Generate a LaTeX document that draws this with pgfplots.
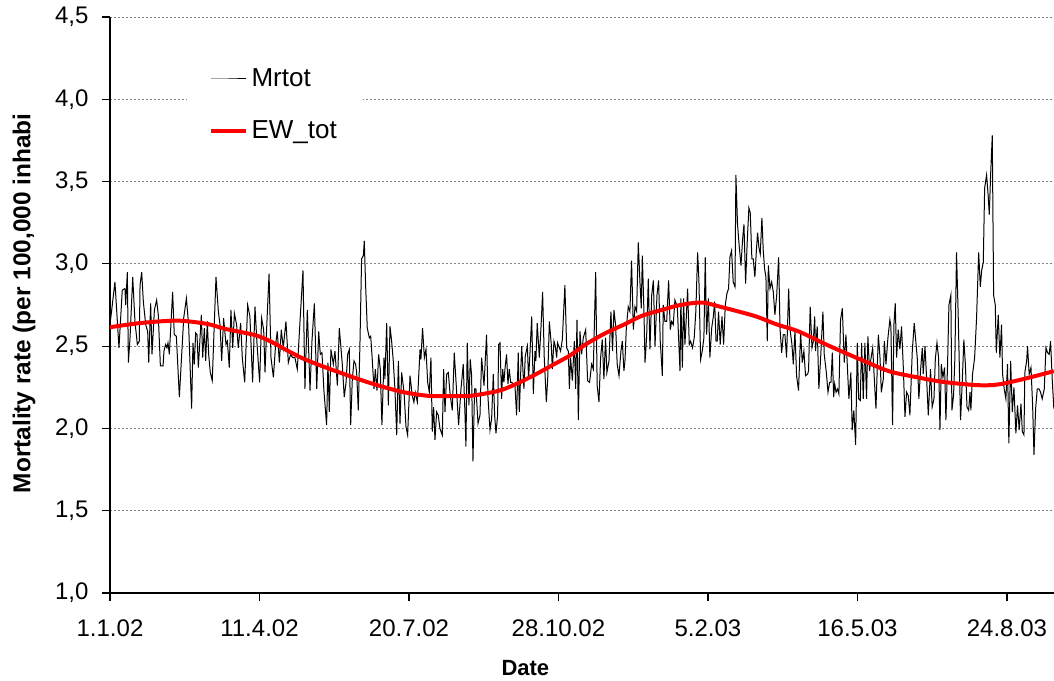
\documentclass[border=0pt]{standalone}
\usepackage{fontspec}
\setmainfont{Liberation Sans}
\usepackage{pgfplots}
\pgfplotsset{compat=1.18}
\begin{document}
\begin{tikzpicture}
\begin{axis}[
 scale only axis, width=472pt, height=288pt,
 xmin=0, xmax=631.5, ymin=1, ymax=4.5,
 axis x line*=bottom, axis y line*=left,
 axis line style={-, black, line width=0.6pt},
 every outer x axis line/.append style={-},
 every outer y axis line/.append style={-},
 xtick={0,100,200,300,400,500,600},
 xticklabels={1.1.02,11.4.02,20.7.02,28.10.02,5.2.03,16.5.03,24.8.03},
 ytick={1,1.5,2,2.5,3,3.5,4,4.5},
 tick align=outside, major tick length=3.75pt,
 tick style={black, line width=0.6pt},
 ymajorgrids,
 major grid style={gray, dash pattern=on 1pt off 1pt, line width=0.5pt},
 ticklabel style={font=\fontsize{12}{14}\selectfont},
 xticklabel style={yshift=-6pt},
 yticklabel style={xshift=-3.5pt},
 /pgf/number format/fixed,
 /pgf/number format/fixed zerofill,
 /pgf/number format/precision=1,
 /pgf/number format/use comma,
 /pgf/number format/assume math mode=true,
 xlabel={Date},
 ylabel={Mortality rate (per 100,000 inhabi},
 xlabel style={at={(axis description cs:0.44,-0.1302)}, anchor=center, font=\bfseries\fontsize{11}{13}\selectfont},
 ylabel style={at={(axis description cs:-0.0911,0.503)}, anchor=center, font=\bfseries\fontsize{12.2}{14}\selectfont},
 legend style={at={(0.0816,0.939)}, anchor=north west, draw=none, fill=white,
   font=\fontsize{13}{15}\selectfont, row sep=11.5pt, inner xsep=11pt, inner ysep=6pt},
 legend cell align=left,
]
\addplot[black, line width=0.5pt] coordinates {
(0,2.63) (3.3,2.89) (6.0,2.49) (8.2,2.84) (10.0,2.85) (10.5,2.75) (11.6,2.95) (12.3,2.40) (13.4,2.55) (15.2,2.92)
(16.7,2.65) (18.3,2.51) (19.6,2.53) (20.1,2.87) (21.2,2.95) (22.3,2.77) (23.9,2.63) (25.2,2.59) (25.9,2.40) (27.2,2.76)
(28.1,2.45) (29.7,2.72) (31.2,2.78) (32.3,2.69) (33.7,2.38) (35.5,2.38) (36.1,2.47) (37.2,2.51) (38.1,2.49) (38.8,2.52)
(39.7,2.45) (41.9,2.83) (43.0,2.57) (44.4,2.56) (46.4,2.19) (49.3,2.67) (51.1,2.79) (52.6,2.63) (54.6,2.12) (55.5,2.52)
(56.4,2.39) (57.3,2.58) (58.2,2.57) (59.1,2.37) (61.1,2.69) (62.0,2.43) (63.1,2.61) (64.0,2.41) (65.1,2.65) (66.0,2.45)
(67.1,2.34) (68.4,2.29) (70.9,2.92) (72.5,2.71) (73.6,2.63) (74.7,2.41) (76.0,2.67)
(77.6,2.51) (78.5,2.53) (79.8,2.37) (80.9,2.72) (82.1,2.49) (83.2,2.70) (84.7,2.63) (85.8,2.49) (87.4,2.64) (88.5,2.43)
(90.1,2.28) (92.1,2.75) (93.6,2.68) (95.4,2.28) (97.0,2.74) (98.3,2.52) (100.1,2.28) (101.4,2.67) (102.8,2.60) (103.7,2.34)
(104.8,2.61) (106.4,2.94) (107.7,2.43) (109.3,2.31) (110.8,2.51) (111.9,2.59) (113.3,2.40) (114.6,2.60) (115.9,2.49) (117.7,2.65)
(119.3,2.40) (120.8,2.45) (122.2,2.43) (123.7,2.43) (125.3,2.36) (127.1,2.65) (129.1,2.96) (130.4,2.24) (132.0,2.72) (133.8,2.23)
(135.1,2.53) (136.7,2.76) (138.3,2.24) (139.6,2.59) (140.7,2.45) (141.8,2.46) (143.1,2.23) (144.9,2.02) (145.8,2.40) (146.7,2.10)
(147.8,2.48) (149.4,2.39) (150.5,2.47) (152.1,2.26) (153.4,2.61)
(155.4,2.39) (156.7,2.19) (157.9,2.28) (159.0,2.45) (160.1,2.48) (161.0,2.02) (162.1,2.30) (163.2,2.41) (164.3,2.39) (165.0,2.34)
(166.1,2.11) (167.2,2.51) (168.3,3.03) (169.5,3.05) (170.1,3.14) (171.0,2.87) (172.1,2.61) (173.5,2.55) (174.4,2.56) (175.5,2.41)
(176.6,2.24) (177.5,2.36) (178.6,2.23) (179.7,2.45) (180.8,2.36) (181.9,2.02) (183.3,2.43) (183.9,2.30) (185.1,2.64) (186.2,2.14)
(187.3,2.62) (188.4,2.53) (189.5,2.41) (190.6,2.24) (191.8,1.96) (192.9,2.41) (194.0,2.03) (195.1,2.34) (196.7,2.22) (198.0,2.01)
(199.1,1.96) (200.7,2.32) (202.2,2.20) (203.3,2.16) (204.2,2.22) (205.6,2.16) (206.2,2.26) (207.4,2.48) (208.0,2.42) (209.1,2.61)
(210.3,2.43) (211.4,2.48) (212.5,2.28) (213.6,2.22) (214.7,2.43) (215.6,1.98) (216.5,2.13) (217.4,1.93) (218.5,2.10) (219.6,2.08)
(220.7,2.00) (222.3,1.96) (223.2,2.36) (224.1,2.10) (225.2,2.33) (226.3,2.34) (227.6,2.20) (229.0,2.11) (230.3,2.46)
(231.9,2.22) (233.2,2.02) (234.8,2.24) (236.3,2.39) (237.5,2.08) (238.1,1.89) (239.0,2.52) (240.1,2.14) (241.0,2.42) (241.9,2.32)
(242.8,1.80) (243.9,2.24) (244.8,2.24) (246.2,2.03) (247.5,2.08) (248.6,2.43) (250.2,2.26) (251.9,2.57) (252.8,2.20) (254.2,1.99)
(255.3,2.06) (256.4,2.33) (257.3,2.08) (258.2,1.97) (259.3,2.08) (260.0,2.51) (260.9,2.52) (262.0,2.18) (262.7,2.36) (263.5,2.28)
(264.2,2.36) (265.3,2.45) (266.2,2.27) (267.1,2.36) (268.0,2.28) (268.9,2.28) (269.8,2.26) (270.9,2.26) (272.0,2.08) (273.1,2.46)
(273.8,2.10) (275.4,2.50) (276.9,2.24) (277.8,2.44) (279.2,2.50) (280.0,2.30) (280.9,2.45) (282.1,2.68) (283.2,2.21) (284.3,2.47)
(284.9,2.41) (285.8,2.64) (287.2,2.43) (288.3,2.61) (289.4,2.83) (290.5,2.43) (291.9,2.16) (292.8,2.30) (293.9,2.65) (295.2,2.51)
(295.9,2.36) (297.0,2.53) (297.9,2.50) (298.8,2.43) (299.4,2.52) (300.6,2.49) (301.4,2.47) (302.6,2.54) (304.3,2.87) (305.5,2.49)
(306.6,2.47) (307.3,2.24)
(308.1,2.43) (309.3,2.29) (310.6,2.53) (311.5,2.24) (312.4,2.66) (313.3,2.05) (314.4,2.59) (315.5,2.45) (316.6,2.55) (318.2,2.60)
(319.5,2.29) (320.8,2.28) (322.2,2.39) (323.3,2.36) (324.9,2.95) (325.9,2.26) (327.1,2.16) (328.2,2.43) (329.3,2.54) (330.4,2.30)
(331.5,2.55) (332.4,2.34) (333.8,2.41) (335.1,2.71) (336.2,2.47) (337.1,2.72) (338.2,2.63) (339.3,2.39) (340.5,2.32) (341.8,2.47)
(342.7,2.53) (343.8,2.35) (344.5,2.41) (345.4,2.61) (346.7,2.74) (347.8,2.71) (348.9,3.02) (350.1,2.60) (351.2,2.74) (352.3,2.71)
(353.4,3.13) (354.5,2.89) (355.4,2.73) (356.1,3.05) (357.2,2.71) (357.9,2.40) (359.0,2.56) (360.1,2.91) (361.2,2.48) (362.4,2.81)
(363.5,2.90) (364.6,2.50) (365.9,2.81) (367.0,2.90) (368.1,2.53) (369.5,2.32) (370.1,2.75) (371.2,2.65) (372.4,2.65) (373.7,2.90)
(374.8,2.60) (375.7,2.65) (376.8,2.63) (377.9,2.78) (379.5,2.74) (381.3,2.35) (381.9,2.79) (382.9,2.37) (383.7,2.79)
(384.6,2.51) (385.3,2.63) (386.4,2.85) (387.5,2.51) (388.4,2.53) (389.7,2.49) (390.8,2.55) (391.9,2.71) (393.1,3.07) (394.0,2.89)
(395.1,2.42) (396.2,2.47) (397.3,2.55) (398.2,3.04) (399.1,2.57) (400.3,2.79) (401.3,2.43) (402.5,2.61) (403.6,2.68) (404.5,2.77)
(405.4,2.53) (406.2,2.53) (407.1,2.71) (408.2,2.51) (409.4,2.68) (410.5,2.51) (411.6,2.75) (412.7,2.82) (413.8,2.85) (414.7,3.04)
(415.8,3.08) (416.9,2.89) (418.1,2.86) (418.7,3.54) (419.8,3.24) (420.9,3.11) (422.1,2.99) (423.2,3.15) (424.1,3.24) (425.2,2.88)
(426.3,3.14) (427.4,3.34) (428.3,3.31) (429.4,3.03) (430.3,3.03) (431.4,2.92) (432.4,3.08) (433.2,3.19) (434.1,3.10) (435.0,3.06)
(436.1,3.28) (437.0,3.08) (437.9,2.97) (438.8,2.92) (439.7,2.53) (440.4,2.99) (441.5,2.85) (442.6,2.89) (443.7,2.83) (444.8,2.69)
(446.0,2.81) (447.3,3.04) (448.2,2.61) (449.3,2.46) (450.4,2.57) (451.5,2.57) (452.6,2.43) (454.0,2.85) (454.8,2.61) (456.2,2.51)
(457.1,2.39) (458.2,2.59) (459.3,2.32) (460.6,2.23)
(462.0,2.58) (463.1,2.40) (464.2,2.47) (465.3,2.32) (466.7,2.33) (467.3,2.35) (468.4,2.74) (469.6,2.49) (470.5,2.53) (471.4,2.68)
(472.0,2.47) (473.1,2.62) (474.2,2.24) (475.4,2.43) (476.9,2.71) (477.8,2.45) (479.2,2.34) (480.3,2.22) (481.4,2.28) (482.3,2.28)
(483.2,2.46) (484.1,2.19) (484.8,2.27) (485.7,2.22) (486.7,2.24) (487.6,2.21) (488.7,2.66) (489.9,2.73) (491.2,2.40) (492.3,2.57)
(493.4,2.35) (494.3,2.18) (495.6,2.34) (496.5,1.99) (497.6,2.11) (498.8,1.90) (499.9,2.52) (500.8,2.18) (501.9,2.17) (502.8,2.52)
(503.9,2.18) (505.0,2.52) (506.1,2.18) (507.0,2.56) (508.1,2.35) (509.0,2.42) (510.2,2.49) (511.3,2.30) (512.4,2.12) (514.0,2.57)
(515.1,2.43) (516.0,2.22) (517.3,2.30) (518.0,2.53) (519.1,2.39) (520.4,2.55) (521.7,2.66) (522.4,2.62) (523.5,2.02) (524.4,2.63)
(525.3,2.76) (526.2,2.43) (527.3,2.60) (528.4,2.48) (529.5,2.62) (530.7,2.37) (531.8,2.07) (532.9,2.22) (534.0,2.20) (535.1,2.08)
(536.7,2.47) (538.0,2.64)
(540.0,2.43) (541.1,2.18) (542.2,2.35) (543.4,2.49) (544.0,2.33) (545.2,2.50) (546.3,2.30) (547.4,2.08) (548.9,2.36) (550.0,2.13)
(551.2,2.18) (552.1,2.42) (553.2,2.52) (554.3,2.43) (555.2,1.99) (556.1,2.39) (557.2,2.31) (558.3,2.37) (559.2,2.05) (560.3,2.39)
(561.2,2.75) (562.5,2.81) (563.2,2.11) (564.3,2.20) (565.2,2.43) (566.3,3.07) (567.4,2.69) (569.0,2.05) (570.1,2.28) (571.2,2.54)
(572.2,2.39) (573.3,2.13) (574.4,2.11) (575.3,2.22) (575.9,2.11) (577.0,2.33) (578.4,2.43) (579.7,2.67) (581.1,3.07) (582.2,2.86)
(583.1,2.96) (584.2,3.01) (585.1,3.46) (586.4,3.54) (587.5,3.41) (588.2,3.30) (589.1,3.54) (590.2,3.78) (591.1,2.81) (592.2,2.75)
(592.9,2.46) (594.2,2.69) (595.3,2.43) (596.4,2.63) (597.1,2.33) (598.2,2.24) (599.3,2.18) (600.4,2.39) (601.3,1.91) (602.5,2.41)
(603.6,2.10) (604.7,2.25) (606.0,1.97) (607.1,2.14) (608.2,1.99) (609.4,2.15) (610.3,1.98) (611.4,1.96) (612.0,2.34) (613.2,2.41)
(613.8,2.50) (614.9,2.33) (616.1,2.37) (617.2,2.14) (618.1,1.84) (619.2,2.12) (620.3,2.24) (621.4,2.24) (622.5,2.22) (623.6,2.18)
(625.0,2.24) (626.1,2.49) (627.2,2.46) (628.3,2.45) (629.2,2.53) (630.3,2.30) (631.4,2.12)
};
\addlegendentry{Mrtot}
\addplot[red, line width=2pt, smooth] coordinates {
(0,2.615) (20,2.640) (45,2.655) (65,2.635) (77,2.605) (97,2.567) (108,2.526) (118,2.476) (129,2.425) (140,2.385)
(152,2.345) (173,2.279) (195,2.223) (213,2.198) (231,2.196) (241,2.198) (254,2.217) (263,2.237) (274,2.280) (285,2.330)
(296,2.385) (308,2.445) (318,2.510) (331,2.577) (344,2.632) (356,2.685) (371,2.725) (381,2.749) (396,2.765) (410,2.735)
(421,2.709) (433,2.678) (446,2.632) (461,2.588) (480,2.506) (503,2.415) (521,2.348) (538,2.314) (557,2.283) (580,2.263)
(594,2.267) (611,2.300) (631.4,2.348)
};
\addlegendentry{EW\_tot}
\end{axis}
\pgfresetboundingbox
\path[use as bounding box] ([xshift=-55pt,yshift=-43.5pt]current axis.south west) rectangle ([yshift=8.5pt]current axis.north east);
\end{tikzpicture}
\end{document}
